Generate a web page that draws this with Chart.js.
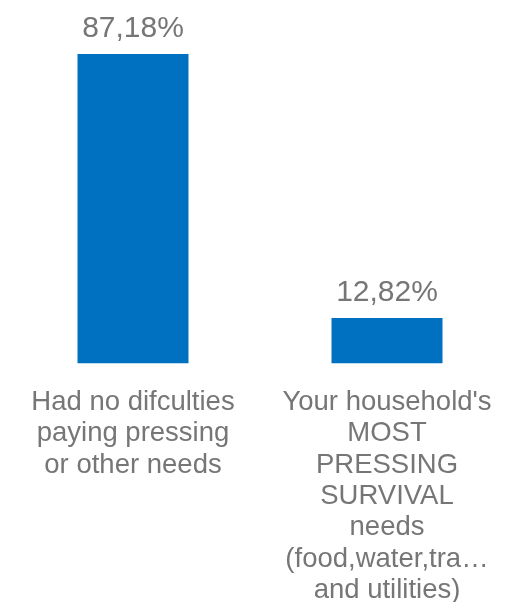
<!DOCTYPE html>
<html>
<head>
<meta charset="utf-8">
<script src="https://cdn.jsdelivr.net/npm/chart.js@4"></script>
<style>
  html, body { margin: 0; padding: 0; background: #fff; }
  #wrap { width: 529px; height: 602px; }
</style>
</head>
<body>
<div id="wrap"><canvas id="chart"></canvas></div>
<script>
const categories = [
  ["Had no difculties", "paying pressing", "or other needs"],
  ["Your household's", "MOST", "PRESSING", "SURVIVAL", "needs", "(food,water,tra\u2026", "and utilities)"]
];
const shares = [87.18, 12.82];
const shareLabels = ["87,18%", "12,82%"];

const textColor = '#767676';

// puts the percentage above each bar
const barLabels = {
  id: 'barLabels',
  afterDatasetsDraw(chart) {
    const ctx = chart.ctx;
    const meta = chart.getDatasetMeta(0);
    ctx.save();
    ctx.font = '30px "Liberation Sans", Arial, sans-serif';
    ctx.fillStyle = textColor;
    ctx.textAlign = 'center';
    ctx.textBaseline = 'alphabetic';
    meta.data.forEach((bar, i) => {
      ctx.fillText(shareLabels[i], bar.x, bar.y - 17);
    });
    ctx.restore();
  }
};

const ctx = document.getElementById('chart').getContext('2d');
new Chart(ctx, {
  type: 'bar',
  data: {
    labels: categories,
    datasets: [{
      data: shares,
      backgroundColor: '#0070C0',
      categoryPercentage: 1,
      barPercentage: 0.437
    }]
  },
  options: {
    responsive: true,
    maintainAspectRatio: false,
    animation: false,
    layout: { padding: { top: 54, left: 6, right: 15, bottom: -27 } },
    plugins: { legend: { display: false }, tooltip: { enabled: false } },
    scales: {
      y: { display: false, min: 0, max: 87.18 },
      x: {
        grid: { display: false, drawTicks: false },
        border: { display: false },
        ticks: {
          color: textColor,
          padding: 23,
          maxRotation: 0,
          autoSkip: false,
          font: { family: '"Liberation Sans", Arial, sans-serif', size: 27.5, lineHeight: 1.14 }
        }
      }
    }
  },
  plugins: [barLabels]
});
</script>
</body>
</html>
